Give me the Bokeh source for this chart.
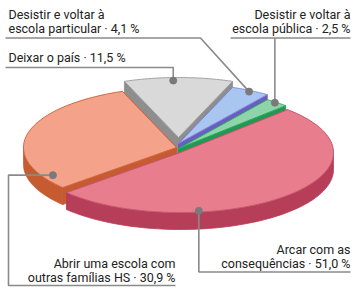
import numpy as np
from bokeh.plotting import figure
from bokeh.models import Range1d
from bokeh.core.properties import value
from bokeh.embed import file_html
from bokeh.resources import INLINE

# ---- data (clockwise from the top slice) ----
categories = ["Deixar o país", "Desistir e voltar à escola particular",
              "Desistir e voltar à escola pública", "Arcar com as consequências",
              "Abrir uma escola com outras famílias HS"]
values = [11.5, 4.1, 2.5, 51.0, 30.9]
label_line1 = ["", "Desistir e voltar à", "Desistir e voltar à", "Arcar com as", "Abrir uma escola com"]
label_line2 = ["Deixar o país · 11,5 %", "escola particular · 4,1 %", "escola pública · 2,5 %",
               "consequências · 51,0 %", "outras famílias HS · 30,9 %"]

# ---- style ----
top_colors = ["#d9d9d9", "#a9c6f0", "#8fd3aa", "#e87d8e", "#f4a28a"]
side_colors = ["#8e8e8e", "#6b5bc4", "#1f9a52", "#b63e58", "#c65a30"]
edge_colors = ["#a0a0a0", "#7f86d8", "#2fa860", "#c85a70", "#d0673f"]
explode = [(0, -11), (0, -5), (0, 0), (2, 4), (-2, -1)]
anchor = [(0.45, 0.95), (0.5, 0.98), (0.45, 0.99), (0.70, 0.98), (0.11, 0.93)]
cx, cy, rx, ry, depth = 178, 148, 153, 60, 17
start_angle = 90 + values[0] * 3.6 / 2
FONT = "Roboto"
FS = "12.5px"
TXT = "#222222"
LINE = "#8a8a8a"
BASE_SHIFT = -4

p = figure(width=358, height=291, output_backend="svg", toolbar_location=None,
           x_range=Range1d(0, 358), y_range=Range1d(291, 0), min_border=0)
p.axis.visible = False
p.grid.visible = False
p.outline_line_color = None
p.background_fill_color = "white"
p.border_fill_color = "white"


def pt(theta, r, off, drop=0.0):
    t = np.radians(theta)
    return cx + off[0] + r * rx * np.cos(t), cy + off[1] - r * ry * np.sin(t) + drop


# slice angle intervals
bounds = []
a = start_angle
for v in values:
    b = a - v * 3.6
    bounds.append((b, a))  # (lo, hi)
    a = b

tops, sides = [], []
for i, (lo, hi) in enumerate(bounds):
    off = explode[i]
    th = np.linspace(hi, lo, 80)
    ax, ay = pt(th, 1.0, off)
    c0 = pt(0, 0, off)
    tops.append(([c0[0]] + list(ax), [c0[1]] + list(ay)))
    # radial faces
    for ang in (lo, hi):
        ex, ey = pt(ang, 1.0, off)
        sides.append((i, [c0[0], ex, ex, c0[0]], [c0[1], ey, ey + depth, c0[1] + depth]))
    # outer front face
    for flo, fhi in ((-540, -360), (-180, 0), (180, 360)):
        l, h = max(lo, flo), min(hi, fhi)
        if h > l:
            tt = np.linspace(l, h, 60)
            fx, fy = pt(tt, 1.0, off)
            sides.append((i, list(fx) + list(fx[::-1]), list(fy) + list((fy + depth)[::-1])))

# back to front for side faces (by mean y)
sides.sort(key=lambda s: np.mean(s[2]))
for i, xs, ys in sides:
    p.patch(xs, ys, fill_color=side_colors[i], line_color=side_colors[i], line_width=0.8)
for i, (xs, ys) in enumerate(tops):
    p.patch(xs, ys, fill_color=top_colors[i], line_color=edge_colors[i], line_width=1)

# anchor dots
dots = []
for i, (lo, hi) in enumerate(bounds):
    f, r = anchor[i]
    dots.append(pt(hi - f * (hi - lo), r, explode[i]))

# leader lines
g, bl, gr, pk, sa = dots
leaders = [
    ([g[0], g[0], 5], [g[1], 67, 67]),
    ([bl[0], 200, 5], [bl[1], 37.5, 37.5]),
    ([gr[0], gr[0]], [gr[1], 37.5]),
    ([230, 350], [37.5, 37.5]),
    ([pk[0], pk[0], 350], [pk[1], 271.5, 271.5]),
    ([sa[0], 8, 8, 175], [sa[1], sa[1], 285, 285]),
]
for xs, ys in leaders:
    p.line(xs, ys, line_color=LINE, line_width=1.6)
p.scatter([d[0] for d in dots], [d[1] for d in dots], size=7, color="#7a7a7a")

# labels
lab_x = [8, 8, 350, 350, 175]
lab_y2 = [61, 32, 32, 267, 281]
lab_align = ["left", "left", "right", "right", "right"]
for i in range(len(values)):
    for txt, yy in ((label_line1[i], lab_y2[i] - 14), (label_line2[i], lab_y2[i])):
        if txt:
            p.text([lab_x[i]], [yy + BASE_SHIFT], text=[txt], text_font=value(FONT), text_font_size=FS,
                   text_color=TXT, text_align=lab_align[i], text_baseline="alphabetic")

open("out.html", "w").write(file_html(p, INLINE))
